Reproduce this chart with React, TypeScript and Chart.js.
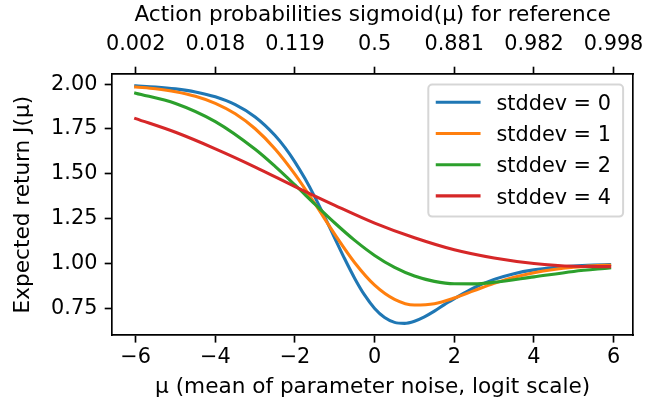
import React, { useEffect, useRef } from 'react';
import { Chart, registerables } from 'chart.js';

Chart.register(...registerables);

const FONT = "'DejaVu Sans', 'Noto Sans', sans-serif";
const FS = 20.8;
const TITLE_FS = 21.6;

// ---- tick values and labels ----
const xTicks = [-6, -4, -2, 0, 2, 4, 6];
const xTickLabels = ['\u22126', '\u22124', '\u22122', '0', '2', '4', '6'];
const topTickLabels = ['0.002', '0.018', '0.119', '0.5', '0.881', '0.982', '0.998'];
const yTicks = [0.75, 1.0, 1.25, 1.5, 1.75, 2.0];
const yTickLabels = ['0.75', '1.00', '1.25', '1.50', '1.75', '2.00'];

// ---- series ----
const seriesLabels = ['stddev = 0', 'stddev = 1', 'stddev = 2', 'stddev = 4'];
const seriesColors = ['#1f77b4', '#ff7f0e', '#2ca02c', '#d62728'];

const blueX = [-6, -5.5, -5, -4.5, -4, -3.5, -3, -2.5, -2.25, -2, -1.75, -1.5, -1.25, -1, -0.75, -0.5, -0.25, 0, 0.25, 0.5, 0.75, 1, 1.25, 1.5, 1.75, 2, 2.5, 3, 3.5, 4, 4.5, 5, 5.5, 5.9];
const blueY = [1.9901, 1.9838, 1.9734, 1.9564, 1.929, 1.8853, 1.817, 1.7138, 1.6459, 1.5658, 1.4736, 1.3702, 1.258, 1.1413, 1.0255, 0.9175, 0.8238, 0.75, 0.6994, 0.6725, 0.6671, 0.6791, 0.7034, 0.735, 0.7717, 0.8042, 0.8655, 0.9119, 0.944, 0.965, 0.9783, 0.9868, 0.9919, 0.9946];

const orangeX = [-6, -5.5, -5, -4.5, -4, -3.5, -3, -2.5, -2, -1.5, -1, -0.5, 0, 0.5, 1, 1.5, 2, 2.5, 3, 3.5, 4, 4.5, 5, 5.5, 5.9];
const orangeY = [1.984, 1.9739, 1.9577, 1.9323, 1.893, 1.8346, 1.7513, 1.6388, 1.4973, 1.3337, 1.1629, 1.005, 0.88, 0.8009, 0.7693, 0.7766, 0.8081, 0.8494, 0.8898, 0.9237, 0.9492, 0.9672, 0.9793, 0.9871, 0.9911];

const greenX = [-6, -5, -4, -3, -2.5, -2, -1.5, -1, -0.5, 0, 0.5, 1, 1.5, 2, 2.5, 3, 4, 5, 5.9];
const greenY = [1.9495, 1.8921, 1.7908, 1.6367, 1.5415, 1.438, 1.331, 1.2262, 1.1293, 1.0456, 0.9788, 0.9307, 0.9009, 0.8875, 0.8871, 0.8958, 0.9261, 0.9564, 0.9757];

const redX = [-6, -5, -4, -3, -2, -1, 0, 1, 2, 3, 4, 5, 5.9];
const redY = [1.8078, 1.7314, 1.6394, 1.538, 1.4292, 1.3247, 1.2256, 1.1438, 1.0769, 1.031, 1.0004, 0.985, 0.983];

const seriesX = [blueX, orangeX, greenX, redX];
const seriesY = [blueY, orangeY, greenY, redY];

// ---- layout (pixels) ----
const W = 646;
const H = 410;
const PLOT_LEFT = 112;
const PLOT_TOP = 74;
const PLOT_RIGHT = 633.3;
const PLOT_BOTTOM = 335.3;
const X_MIN = -6.595;
const X_MAX = 6.495;
const Y_MIN = 0.6005;
const Y_MAX = 2.0563;
const LW = 3.1;
const SPINE = 1.67;
const TICK_LEN = 7.3;

const legendPlugin = {
  id: 'boxLegend',
  afterDraw(chart: any) {
    const ctx = chart.ctx as CanvasRenderingContext2D;
    const x = 428.3, y = 84.6, w = 194.8, h = 132, r = 4;
    ctx.save();
    ctx.beginPath();
    ctx.moveTo(x + r, y);
    ctx.lineTo(x + w - r, y);
    ctx.arcTo(x + w, y, x + w, y + r, r);
    ctx.lineTo(x + w, y + h - r);
    ctx.arcTo(x + w, y + h, x + w - r, y + h, r);
    ctx.lineTo(x + r, y + h);
    ctx.arcTo(x, y + h, x, y + h - r, r);
    ctx.lineTo(x, y + r);
    ctx.arcTo(x, y, x + r, y, r);
    ctx.closePath();
    ctx.fillStyle = 'rgba(255,255,255,0.8)';
    ctx.fill();
    ctx.lineWidth = 2;
    ctx.strokeStyle = 'rgba(204,204,204,0.8)';
    ctx.stroke();
    chart.data.datasets.forEach((ds: any, i: number) => {
      const ly = 102.3 + i * 31.2;
      ctx.beginPath();
      ctx.moveTo(437.3, ly);
      ctx.lineTo(479, ly);
      ctx.lineWidth = LW;
      ctx.lineCap = 'square';
      ctx.strokeStyle = ds.borderColor;
      ctx.stroke();
      ctx.fillStyle = '#000';
      ctx.font = `${FS}px ${FONT}`;
      ctx.textAlign = 'left';
      ctx.textBaseline = 'alphabetic';
      ctx.fillText(ds.label, 496.5, ly + 7.7);
    });
    ctx.restore();
  },
};

export default function App() {
  const ref = useRef<HTMLCanvasElement>(null);

  useEffect(() => {
    document.body.style.margin = '0';
    const canvas = ref.current;
    if (!canvas) return;
    Chart.defaults.font.family = FONT;
    Chart.defaults.font.size = FS;
    Chart.defaults.color = '#000';

    const datasets = seriesLabels.map((label, i) => ({
      label,
      data: seriesX[i].map((xv, j) => ({ x: xv, y: seriesY[i][j] })),
      borderColor: seriesColors[i],
      backgroundColor: seriesColors[i],
      borderWidth: LW,
      pointRadius: 0,
      pointHoverRadius: 0,
      fill: false,
      cubicInterpolationMode: 'monotone' as const,
      borderCapStyle: 'square' as const,
      borderJoinStyle: 'round' as const,
      order: seriesLabels.length - i,
      xAxisID: 'x',
      yAxisID: 'y',
    }));

    const gridOpts = {
      display: true,
      drawOnChartArea: false,
      drawTicks: true,
      tickLength: TICK_LEN,
      tickWidth: SPINE,
      tickColor: '#000',
    };
    const borderOpts = { display: true, color: '#000', width: SPINE };

    const chart = new Chart(canvas, {
      type: 'line',
      data: { datasets },
      plugins: [legendPlugin],
      options: {
        responsive: false,
        animation: false,
        devicePixelRatio: 1,
        layout: { padding: 0 },
        plugins: { legend: { display: false }, tooltip: { enabled: false } },
        scales: {
          x: {
            type: 'linear',
            position: 'bottom',
            min: X_MIN,
            max: X_MAX,
            afterBuildTicks: (s: any) => {
              s.ticks = xTicks.map((v) => ({ value: v }));
            },
            ticks: {
              autoSkip: false,
              maxRotation: 0,
              padding: 3,
              callback: (v: any) => xTickLabels[xTicks.indexOf(v)],
            },
            grid: gridOpts,
            border: borderOpts,
            title: {
              display: true,
              text: '\u03bc (mean of parameter noise, logit scale)',
              font: { size: TITLE_FS },
              padding: { top: 0, bottom: 9.4 },
            },
            afterFit: (s: any) => {
              s.height = H - PLOT_BOTTOM;
              s.paddingLeft = 0;
              s.paddingRight = 0;
            },
          },
          x2: {
            type: 'linear',
            position: 'top',
            min: X_MIN,
            max: X_MAX,
            afterBuildTicks: (s: any) => {
              s.ticks = xTicks.map((v) => ({ value: v }));
            },
            ticks: {
              autoSkip: false,
              maxRotation: 0,
              padding: 9.8,
              callback: (v: any) => topTickLabels[xTicks.indexOf(v)],
            },
            grid: gridOpts,
            border: borderOpts,
            title: {
              display: true,
              text: 'Action probabilities sigmoid(\u03bc) for reference',
              font: { size: TITLE_FS },
              padding: { top: 2.4, bottom: 0 },
            },
            afterFit: (s: any) => {
              s.height = PLOT_TOP;
              s.paddingLeft = 0;
              s.paddingRight = 0;
            },
          },
          y: {
            type: 'linear',
            position: 'left',
            min: Y_MIN,
            max: Y_MAX,
            afterBuildTicks: (s: any) => {
              s.ticks = yTicks.map((v) => ({ value: v }));
            },
            ticks: {
              autoSkip: false,
              padding: 7.3,
              callback: (v: any) => yTickLabels[yTicks.indexOf(v)],
            },
            grid: gridOpts,
            border: borderOpts,
            title: {
              display: true,
              text: 'Expected return J(\u03bc)',
              font: { size: TITLE_FS },
              padding: { top: 10, bottom: 0 },
            },
            afterFit: (s: any) => {
              s.width = PLOT_LEFT;
              s.paddingTop = 0;
              s.paddingBottom = 0;
            },
          },
          y2: {
            type: 'linear',
            position: 'right',
            min: 0,
            max: 1,
            ticks: { display: false },
            grid: { display: false, drawTicks: false, drawOnChartArea: false },
            border: borderOpts,
            afterFit: (s: any) => {
              s.width = W - PLOT_RIGHT;
              s.paddingTop = 0;
              s.paddingBottom = 0;
            },
          },
        },
      } as any,
    });
    return () => chart.destroy();
  }, []);

  return (
    <div style={{ width: W, height: H }}>
      <canvas ref={ref} width={W} height={H} style={{ display: 'block', width: W, height: H }} />
    </div>
  );
}
